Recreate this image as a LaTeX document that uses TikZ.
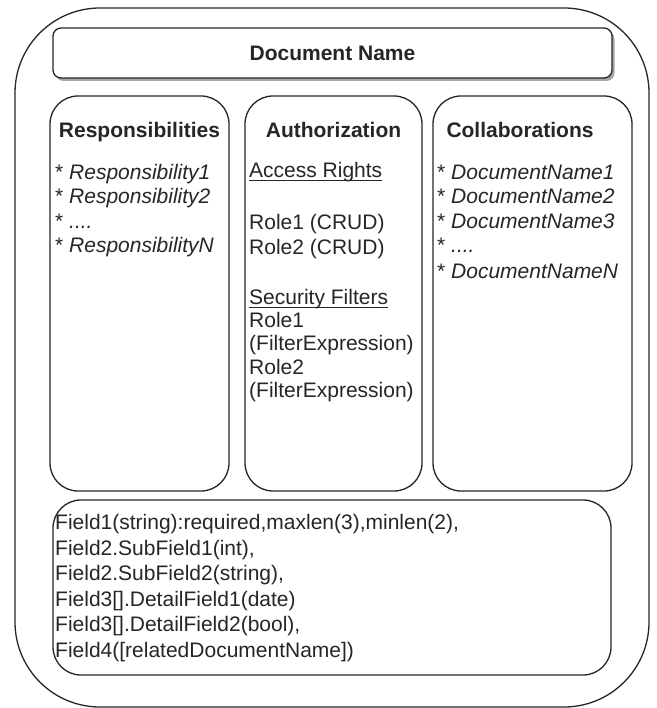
\documentclass[tikz,border=0pt]{standalone}
\usepackage{fontspec}
\setmainfont{Liberation Sans}
\usetikzlibrary{shadows}
\begin{document}
\begin{tikzpicture}[x=1pt,y=-1pt,
  box/.style={draw=black!85, line width=1.3pt, fill=white, rectangle, inner sep=0pt},
  txt/.style={inner sep=0pt, text=black!85, font=\fontsize{21pt}{24.5pt}\selectfont},
  hdr/.style={txt, font=\fontsize{21pt}{24.5pt}\selectfont\bfseries, anchor=base},
  ln/.style={txt, anchor=base west},
  uline/.style={draw=black!85, line width=1.1pt}]
\useasboundingbox (0,0) rectangle (656,708);
% outer
\node[box, rounded corners=85pt, minimum width=634pt, minimum height=699pt] (outer) at (332,357.5) {};
% document name
\node[box, rounded corners=8pt, minimum width=559pt, minimum height=50pt,
  drop shadow={shadow xshift=2.5pt, shadow yshift=-3pt, fill=black!35, opacity=1}] (docname) at (332.5,53) {};
\node[hdr, anchor=center] (doctitle) at (docname.center) {Document Name};
% columns
\node[box, rounded corners=28pt, minimum width=179pt, minimum height=395pt] (resp) at (139.5,293.5) {};
\node[box, rounded corners=28pt, minimum width=177pt, minimum height=395pt] (auth) at (333.5,293.5) {};
\node[box, rounded corners=28pt, minimum width=199pt, minimum height=395pt] (coll) at (532.5,293.5) {};
% fields
\node[box, rounded corners=28pt, minimum width=558pt, minimum height=175pt] (fields) at (332,587.5) {};
% Responsibilities
\node[hdr] (resph) at (139.5,137.5) {Responsibilities};
\node[ln] (r1) at (55,179.5) {* \textit{Responsibility1}};
\node[ln] (r2) at (55,204) {* \textit{Responsibility2}};
\node[ln] (r3) at (55,228.5) {* \textit{....}};
\node[ln] (r4) at (55,253) {* \textit{ResponsibilityN}};
% Authorization
\node[hdr] (authh) at (333.5,137.5) {Authorization};
\node[ln] (a1) at (249,177.5) {Access Rights};
\node[ln] (a2) at (249,229.5) {Role1 (CRUD)};
\node[ln] (a3) at (249,254.5) {Role2 (CRUD)};
\node[ln] (a4) at (249,304.5) {Security Filters};
\node[ln] (a5) at (249,327.5) {Role1};
\node[ln] (a6) at (249,350.5) {(FilterExpression)};
\node[ln] (a7) at (249,374.5) {Role2};
\node[ln] (a8) at (249,397.5) {(FilterExpression)};
\draw[uline] ([yshift=-2.6pt]a1.base west) -- ([yshift=-2.6pt]a1.base east);
\draw[uline] ([yshift=-2.6pt]a4.base west) -- ([yshift=-2.6pt]a4.base east);
% Collaborations
\node[hdr] (collh) at (520,137.5) {Collaborations};
\node[ln] (c1) at (437,179.5) {* \textit{DocumentName1}};
\node[ln] (c2) at (437,204) {* \textit{DocumentName2}};
\node[ln] (c3) at (437,228.5) {* \textit{DocumentName3}};
\node[ln] (c4) at (437,253) {* \textit{....}};
\node[ln] (c5) at (437,278) {* \textit{DocumentNameN}};
% fields text
\node[ln] (f1) at (55,529.5) {Field1(string):required,maxlen(3),minlen(2),};
\node[ln] (f2) at (55,555) {Field2.SubField1(int),};
\node[ln] (f3) at (55,580.5) {Field2.SubField2(string),};
\node[ln] (f4) at (55,606) {Field3[].DetailField1(date)};
\node[ln] (f5) at (55,631.5) {Field3[].DetailField2(bool),};
\node[ln] (f6) at (55,657) {Field4([relatedDocumentName])};
\end{tikzpicture}
\end{document}
